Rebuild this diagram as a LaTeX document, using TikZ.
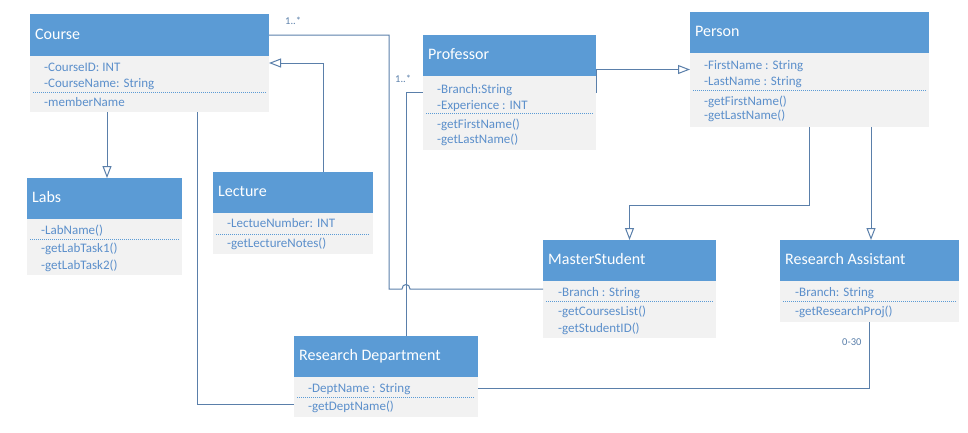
\documentclass[tikz,border=0pt]{standalone}
\usepackage{fontspec}
\setmainfont{Carlito}
\usetikzlibrary{arrows.meta,calc}
\definecolor{hdr}{HTML}{5B9BD5}
\definecolor{bodyfill}{HTML}{F2F2F2}
\definecolor{txt}{HTML}{5B8FCB}
\definecolor{conncol}{HTML}{5A7FAA}
\tikzset{
 bodybox/.style={fill=bodyfill, draw=none, inner sep=0, outer sep=0, anchor=north west},
 headbox/.style={fill=hdr, draw=none, inner sep=0, outer sep=0, anchor=north west},
 titletext/.style={anchor=base west, inner sep=0, text=white, font=\fontsize{16}{19}\selectfont},
 member/.style={anchor=base west, inner sep=0, text=txt, font=\fontsize{13}{15}\selectfont},
 sepline/.style={draw=hdr, line width=0.6pt, dash pattern=on 1pt off 1pt},
 conn/.style={draw=conncol, line width=1pt},
 gen/.style={conn, -{Triangle[open, length=12pt, width=9pt, fill=white]}},
 mult/.style={anchor=base west, inner sep=0, text=conncol, font=\fontsize{10.5}{12}\selectfont},
}
% #1 name, #2 left, #3 top, #4 right, #5 header bottom, #6 bottom, #7 title
\newcommand{\umlclass}[7]{%
  \node[bodybox, minimum width={(#4-#2)*1pt}, minimum height={(#6-#3)*1pt}] (#1) at (#2,#3) {};
  \node[headbox, minimum width={(#4-#2)*1pt}, minimum height={(#5-#3)*1pt}] (#1-h) at (#2,#3) {};
  \node[titletext] (#1-t) at ({#2+5},{(#3+#5)/2+4}) {#7};
}
\newcommand{\sepat}[3]{\draw[sepline] ({#1+3},#3) -- ({#2-3},#3);}
\begin{document}
\begin{tikzpicture}[x=1pt,y=-1pt]
\useasboundingbox (0,0) rectangle (968,432);
% Course
\umlclass{course}{30}{14}{269}{56}{112}{Course}
\node[member] (course-a1) at (44,71) {-CourseID: INT};
\node[member] (course-a2) at (44,87) {-CourseName: String};
\sepat{30}{269}{92}
\node[member] (course-m1) at (44,106) {-memberName};
% Professor
\umlclass{prof}{423}{35}{596}{76}{150}{Professor}
\node[member] (prof-a1) at (437,93) {-Branch:String};
\node[member] (prof-a2) at (437,109) {-Experience : INT};
\sepat{423}{596}{113}
\node[member] (prof-m1) at (437,128) {-getFirstName()};
\node[member] (prof-m2) at (437,143) {-getLastName()};
% Person
\umlclass{person}{690}{12}{929}{53}{127}{Person}
\node[member] (person-a1) at (704,69) {-FirstName : String};
\node[member] (person-a2) at (704,85) {-LastName : String};
\sepat{690}{929}{90}
\node[member] (person-m1) at (704,105) {-getFirstName()};
\node[member] (person-m2) at (704,119) {-getLastName()};
% Labs
\umlclass{labs}{27}{178}{182}{219}{275}{Labs}
\node[member] (labs-a1) at (41,234) {-LabName()};
\sepat{27}{182}{239}
\node[member] (labs-m1) at (41,252) {-getLabTask1()};
\node[member] (labs-m2) at (41,269) {-getLabTask2()};
% Lecture
\umlclass{lect}{213}{172}{373}{213}{254}{Lecture}
\node[member] (lect-a1) at (227,227) {-LectueNumber: INT};
\sepat{213}{373}{234}
\node[member] (lect-m1) at (227,247) {-getLectureNotes()};
% MasterStudent
\umlclass{ms}{543}{240}{716}{281}{338}{MasterStudent}
\node[member] (ms-a1) at (558,296) {-Branch : String};
\sepat{543}{716}{301}
\node[member] (ms-m1) at (558,315) {-getCoursesList()};
\node[member] (ms-m2) at (558,332) {-getStudentID()};
% Research Assistant
\umlclass{ra}{780}{240}{959}{281}{322}{Research Assistant}
\node[member] (ra-a1) at (795,296) {-Branch: String};
\sepat{780}{959}{301}
\node[member] (ra-m1) at (795,315) {-getResearchProj()};
% Research Department
\umlclass{rd}{294}{336}{478}{377}{417}{Research Department}
\node[member] (rd-a1) at (308,392) {-DeptName : String};
\sepat{294}{478}{397}
\node[member] (rd-m1) at (308,410) {-getDeptName()};
% connectors
\draw[conn] (course-h.east) -- (389,35) -- (389,289) -- (402,289)
   .. controls (402,283) and (410,283) .. (410,289) -- (ms.west);
\draw[conn] ($(rd.north)+(20,0)$) |- (prof.west);
\draw[gen] ($(lect.north)+(30,0)$) |- (course.east);
\draw[gen] ($(course.south)+(-42.5,0)$) coordinate (cl) -- (cl |- labs.north);
\draw[conn] ($(course.south)+(47.5,0)$) |- ($(rd.west)+(0,27.5)$);
\draw[gen] (prof.east) -- ++(0,-23) -- (person.west);
\draw[gen] (person.south) -- ++(0,78) -| (ms.north);
\draw[gen] ($(person.south)+(61.5,0)$) coordinate (pr) -- (pr |- ra.north);
\draw[conn] (ra.south) |- ($(rd.east)+(0,11.5)$);
% multiplicities
\node[mult] (m1) at (285,24) {1..*};
\node[mult] (m2) at (395,82) {1..*};
\node[mult] (m3) at (842,345) {0-30};
\end{tikzpicture}
\end{document}
